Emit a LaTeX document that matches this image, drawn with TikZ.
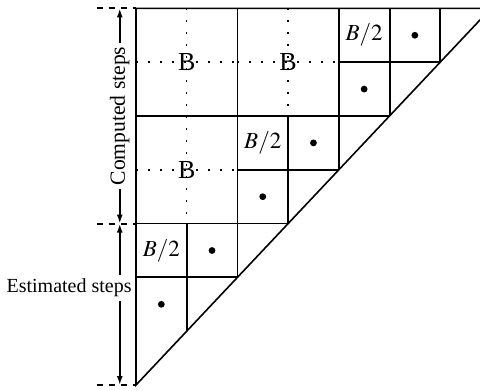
\documentclass[tikz,border=0pt]{standalone}
\usepackage{mathptmx}
\usepackage{fontspec}
\setmainfont{Liberation Serif}
\usetikzlibrary{arrows.meta}

\tikzset{
  blockline/.style={line width=0.8pt},
  cellline/.style={line width=1pt},
  halfline/.style={line width=0.8pt, dash pattern=on 0.8pt off 5.2pt},
  stepmark/.style={line width=1.1pt, dashed},
  steparrow/.style={line width=0.9pt, {Latex[length=4.5pt,width=3pt]}-{Latex[length=4.5pt,width=3pt]}},
  celldot/.style={circle, fill, inner sep=0pt, minimum size=3.4pt},
  blocklabel/.style={font=\fontsize{13}{15}\selectfont},
  halflabel/.style={font=\fontsize{11.5}{13}\selectfont},
}

\begin{document}
\begin{tikzpicture}[x=25.35pt, y=26.9pt]
    \useasboundingbox (-2.682,-0.093) rectangle (6.785,7.156);
    % left side: computed / estimated
    \coordinate (t7) at (-0.77,7);
    \coordinate (t3) at (-0.77,3);
    \coordinate (t0) at (-0.77,0);
    \coordinate (a7) at (-0.32,7);
    \coordinate (a3) at (-0.32,3);
    \coordinate (a0) at (-0.32,0);
    \draw[stepmark] (t7) -- (0,7);
    \draw[stepmark] (t3) -- (0,3);
    \draw[stepmark] (t0) -- (0,0);
    \draw[steparrow] (a3) -- (a7) node[midway, rotate=90, fill=white, inner sep=2pt, font=\fontsize{10.8}{13}\selectfont] (computed) {Computed steps};
    \draw[steparrow] (a0) -- (a3);
    \node[fill=white, anchor=east, inner sep=2pt] (estimated) at (0,1.8) {Estimated steps};
    % triangle
    \draw[blockline] (0,7) -- (0,0) -- (7,7) -- cycle;
    % B blocks
    \draw[blockline] (0,5) -- (5,5);
    \draw[blockline] (0,3) -- (3,3);
    \draw[blockline] (2,7) -- (2,2);
    \draw[blockline] (4,7) -- (4,4);
    % B/2 cells
    \draw[cellline] (5,7) -- (5,5);
    \draw[cellline] (6,7) -- (6,6);
    \draw[cellline] (4,6) -- (6,6);
    \draw[cellline] (3,5) -- (3,3);
    \draw[cellline] (2,4) -- (4,4);
    \draw[cellline] (1,3) -- (1,1);
    \draw[cellline] (0,2) -- (2,2);
    % dotted halves
    \draw[halfline] (1,7) -- (1,5);
    \draw[halfline] (0,6) -- (2,6);
    \draw[halfline] (3,7) -- (3,5);
    \draw[halfline] (2,6) -- (4,6);
    \draw[halfline] (1,5) -- (1,3);
    \draw[halfline] (0,4) -- (2,4);
    \node[blocklabel] (b1) at (1,6) {B};
    \node[blocklabel] (b2) at (3,6) {B};
    \node[blocklabel] (b3) at (1,4) {B};
    \node[halflabel] (h1) at (4.5,6.5) {$B/2$};
    \node[halflabel] (h2) at (2.5,4.5) {$B/2$};
    \node[halflabel] (h3) at (0.5,2.5) {$B/2$};
    \node[celldot] (d1) at (5.5,6.5) {};
    \node[celldot] (d2) at (4.5,5.5) {};
    \node[celldot] (d3) at (3.5,4.5) {};
    \node[celldot] (d4) at (2.5,3.5) {};
    \node[celldot] (d5) at (1.5,2.5) {};
    \node[celldot] (d6) at (0.5,1.5) {};
\end{tikzpicture}
\end{document}
